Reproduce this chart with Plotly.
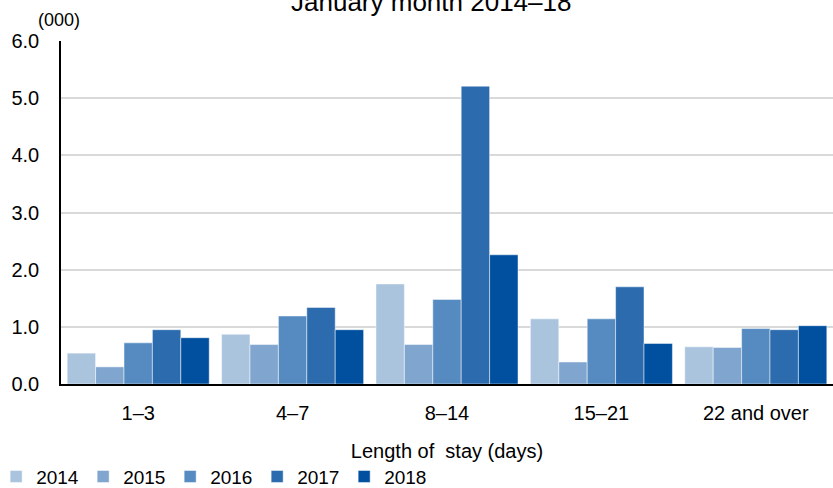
import plotly.graph_objects as go

# Length-of-stay bands and yearly counts (thousands)
categories = ["1–3", "4–7", "8–14", "15–21", "22 and over"]
years = ["2014", "2015", "2016", "2017", "2018"]
values_2014 = [0.54, 0.87, 1.75, 1.14, 0.65]
values_2015 = [0.30, 0.69, 0.69, 0.385, 0.64]
values_2016 = [0.72, 1.19, 1.48, 1.14, 0.97]
values_2017 = [0.95, 1.34, 5.21, 1.70, 0.95]
values_2018 = [0.81, 0.95, 2.26, 0.71, 1.02]
y_ticks = [0.0, 1.0, 2.0, 3.0, 4.0, 5.0, 6.0]

series = [values_2014, values_2015, values_2016, values_2017, values_2018]
colors = ["#aac4de", "#80a6cf", "#568bc1", "#2c6bae", "#01509f"]

FONT = "Liberation Sans, Arial, sans-serif"

fig = go.Figure()
for year, vals, col in zip(years, series, colors):
    fig.add_trace(go.Bar(
        name=year, x=categories, y=vals,
        marker=dict(color=col, line=dict(color="rgba(255,255,255,0.6)", width=0.8)),
    ))

fig.update_layout(
    width=833, height=488,
    margin=dict(l=61, r=0, t=41, b=104, autoexpand=False),
    paper_bgcolor="white", plot_bgcolor="white",
    barmode="group", bargap=0.08, bargroupgap=0,
    font=dict(family=FONT, size=20, color="#000000"),
    showlegend=True,
    legend=dict(
        orientation="h", x=-0.084, xanchor="left", y=-0.27, yanchor="middle",
        font=dict(size=19), entrywidth=42, entrywidthmode="pixels",
        itemwidth=30, tracegroupgap=0, bgcolor="rgba(0,0,0,0)",
    ),
    xaxis=dict(
        showgrid=False, showline=True, linecolor="#000000", linewidth=2,
        ticks="", tickfont=dict(size=20), ticklabelstandoff=10,
        title=dict(text="Length of\u00a0 stay (days)", font=dict(size=20), standoff=21),
        automargin=False,
    ),
    yaxis=dict(
        range=[0, 6.0], tickvals=y_ticks, ticktext=[f"{v:.1f}" for v in y_ticks],
        showgrid=True, gridcolor="#d9d9d9", gridwidth=1.5,
        showline=True, linecolor="#000000", linewidth=1.5,
        ticks="", tickfont=dict(size=20), ticklabelstandoff=16, zeroline=False,
        automargin=False,
    ),
    annotations=[
        dict(text="January month 2014–18", xref="paper", yref="paper",
             x=0.479, y=1.0, xanchor="center", yanchor="bottom",
             yshift=22, showarrow=False, font=dict(size=26)),
        dict(text="(000)", xref="paper", yref="paper", x=-0.033, y=1.0,
             xanchor="left", yanchor="middle", yshift=21, showarrow=False,
             font=dict(size=18)),
    ],
)

fig.write_html("out.html")
